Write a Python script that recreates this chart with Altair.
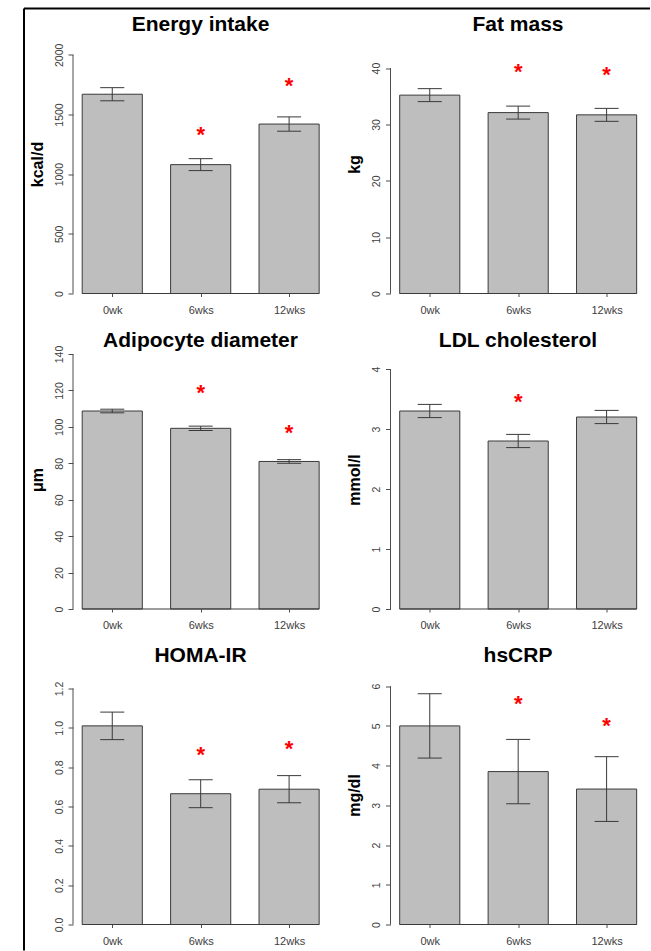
import altair as alt
import pandas as pd

# ---- data -------------------------------------------------------------
periods = ["0wk", "6wks", "12wks"]
positions = [1, 2, 3]

energy_mean = [1670, 1080, 1420]
energy_se = [55, 50, 60]
energy_star = [None, 1345, 1755]
energy_ticks = [0, 500, 1000, 1500, 2000]

fat_mean = [35.2, 32.1, 31.7]
fat_se = [1.15, 1.15, 1.15]
fat_star = [None, 39.7, 39.2]
fat_ticks = [0, 10, 20, 30, 40]

adipo_mean = [108.7, 99.2, 81.0]
adipo_se = [1.0, 1.2, 1.0]
adipo_star = [None, 119.9, 97.9]
adipo_ticks = [0, 20, 40, 60, 80, 100, 120, 140]

ldl_mean = [3.3, 2.8, 3.2]
ldl_se = [0.11, 0.11, 0.11]
ldl_star = [None, 3.48, None]
ldl_ticks = [0, 1, 2, 3, 4]

homa_mean = [1.01, 0.665, 0.688]
homa_se = [0.07, 0.071, 0.069]
homa_star = [None, 0.874, 0.903]
homa_ticks = [0.0, 0.2, 0.4, 0.6, 0.8, 1.0, 1.2]

crp_mean = [5.0, 3.85, 3.41]
crp_se = [0.81, 0.81, 0.815]
crp_star = [None, 5.59, 5.04]
crp_ticks = [0, 1, 2, 3, 4, 5, 6]

# ---- layout / style ---------------------------------------------------
W, H = 255, 255
X_LO, X_HI = 0.556, 3.44
HALF = 0.34          # half bar width (x units)
CAP = 0.136          # half width of error-bar caps
FONT = "Liberation Sans"
BAR_FILL = "#BEBEBE"
EDGE = "#3a3a3a"
AXIS_GREY = "#4d4d4d"
LABEL_GREY = "#404040"

label_expr = "[" + ",".join(f"'{p}'" for p in periods) + "][datum.value - 1]"


def panel(title, unit, mean, se, star, ticks, ymax, fmt, frame=False):
    df = pd.DataFrame({"period": periods, "pos": positions,
                       "mean": mean, "se": se, "star": star})
    xs = alt.Scale(domain=[X_LO, X_HI], nice=False, zero=False)
    ys = alt.Scale(domain=[0, ymax], nice=False, zero=False)
    xaxis = alt.Axis(values=positions, labelExpr=label_expr, domain=False,
                     grid=False, tickSize=3, tickColor=AXIS_GREY,
                     labelPadding=7.5, labelFontSize=11, labelColor=LABEL_GREY,
                     labelFont=FONT, labelFlush=False, title=None)
    yaxis_kw = dict(values=ticks, format=fmt, domain=False, grid=False,
                    tickSize=5, tickColor=AXIS_GREY, labelAngle=270,
                    labelAlign="center", labelBaseline="bottom",
                    labelPadding=4, labelFontSize=10.5, labelColor=LABEL_GREY,
                    labelFont=FONT, labelFlush=False, labelOverlap=False)
    if unit:
        yaxis = alt.Axis(title=unit, titleFont=FONT, titleFontSize=16,
                         titleFontWeight="bold", titleColor="black",
                         titleAngle=270, titleX=-36, titleY=H / 2 - 2,
                         titleAlign="center", titleBaseline="middle",
                         **yaxis_kw)
    else:
        yaxis = alt.Axis(title=None, **yaxis_kw)

    def X(f):
        return alt.X(f, scale=xs, axis=xaxis)

    def Y(f):
        return alt.Y(f, scale=ys, axis=yaxis)

    base = alt.Chart(df).transform_calculate(
        x0=f"datum.pos - {HALF}", x1=f"datum.pos + {HALF}",
        lo="datum.mean - datum.se", hi="datum.mean + datum.se",
        c0=f"datum.pos - {CAP}", c1=f"datum.pos + {CAP}",
    )

    bars = base.mark_rect(fill=BAR_FILL, stroke=EDGE, strokeWidth=1).encode(
        x=X("x0:Q"), x2="x1:Q", y=Y("mean:Q"), y2=alt.datum(0))

    baseline_df = pd.DataFrame({"x0": [positions[0] - HALF],
                                "x1": [positions[-1] + HALF], "y0": [0]})
    base_line = alt.Chart(baseline_df).mark_rule(color=EDGE, strokeWidth=1).encode(
        x=X("x0:Q"), x2="x1:Q", y=Y("y0:Q"))

    whisker = base.mark_rule(color=EDGE, strokeWidth=1).encode(
        x=X("pos:Q"), y=Y("lo:Q"), y2="hi:Q")
    cap_lo = base.mark_rule(color=EDGE, strokeWidth=1).encode(
        x=X("c0:Q"), x2="c1:Q", y=Y("lo:Q"))
    cap_hi = base.mark_rule(color=EDGE, strokeWidth=1).encode(
        x=X("c0:Q"), x2="c1:Q", y=Y("hi:Q"))

    stars = base.transform_filter("isValid(datum.star)").mark_text(
        text="*", color="#FF0000", fontSize=22, fontWeight="bold", font=FONT,
        baseline="middle", align="center", dy=2).encode(
        x=X("pos:Q"), y=Y("star:Q"))

    yline_df = pd.DataFrame({"y0": [ticks[0]], "y1": [ticks[-1]]})
    y_line = alt.Chart(yline_df).mark_rule(color=AXIS_GREY, strokeWidth=1).encode(
        x=alt.value(0), y=Y("y0:Q"), y2="y1:Q")

    head = alt.Chart(pd.DataFrame({"t": [title]})).mark_text(
        font=FONT, fontSize=21, fontWeight="bold", color="black",
        align="center", baseline="alphabetic").encode(
        text="t:N", x=alt.value(W / 2), y=alt.value(-7.5))

    layers = [bars, base_line, whisker, cap_lo, cap_hi, stars, y_line, head]

    if frame:
        # figure frame: left and top edges
        one = pd.DataFrame({"k": [0]})
        left_edge = alt.Chart(one).mark_rule(color="black", strokeWidth=2).encode(
            x=alt.value(-49), y=alt.value(-30), y2=alt.value(912))
        top_edge = alt.Chart(one).mark_rule(color="black", strokeWidth=2).encode(
            x=alt.value(-49), x2=alt.value(577), y=alt.value(-30))
        layers += [left_edge, top_edge]

    return alt.layer(*layers).properties(width=W, height=H)


panels = [
    panel("Energy intake", "kcal/d", energy_mean, energy_se, energy_star,
          energy_ticks, 2137, "d", frame=True),
    panel("Fat mass", "kg", fat_mean, fat_se, fat_star, fat_ticks, 45.25, "d"),
    panel("Adipocyte diameter", "μm", adipo_mean, adipo_se, adipo_star,
          adipo_ticks, 140, "d"),
    panel("LDL cholesterol", "mmol/l", ldl_mean, ldl_se, ldl_star,
          ldl_ticks, 4.25, "d"),
    panel("HOMA-IR", None, homa_mean, homa_se, homa_star, homa_ticks,
          1.2966, ".1f"),
    panel("hsCRP", "mg/dl", crp_mean, crp_se, crp_star, crp_ticks, 6.42, "d"),
]

chart = alt.concat(
    *panels, columns=2, bounds="flush",
    spacing={"row": 60.5, "column": 62.5},
).properties(
    padding={"left": 23, "top": 7.5, "right": 0, "bottom": 0},
    background="white",
).configure(font=FONT).configure_view(stroke=None)

chart.save("out.html", embed_options={"renderer": "svg", "actions": False})
